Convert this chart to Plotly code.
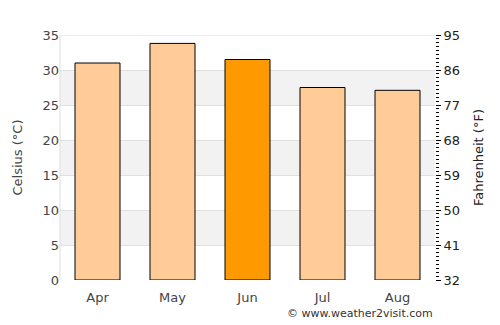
import plotly.graph_objects as go

months = ["Apr", "May", "Jun", "Jul", "Aug"]
celsius = [31.0, 33.8, 31.5, 27.5, 27.1]
colors = ["#ffcc99", "#ffcc99", "#ff9900", "#ffcc99", "#ffcc99"]
c_ticks = [0, 5, 10, 15, 20, 25, 30, 35]
f_ticks = [32, 41, 50, 59, 68, 77, 86, 95]

fig = go.Figure()
fig.add_trace(go.Bar(x=months, y=celsius, marker=dict(color=colors, line=dict(color="black", width=1)),
                     width=0.6, hoverinfo="skip"))
# invisible trace for the secondary axis
fig.add_trace(go.Scatter(x=months, y=[c * 9 / 5 + 32 for c in celsius], yaxis="y2",
                         mode="markers", marker=dict(opacity=0), hoverinfo="skip", showlegend=False))

shapes = []
for lo in [5, 15, 25]:
    shapes.append(dict(type="rect", xref="paper", yref="y", x0=0, x1=1, y0=lo, y1=lo + 5,
                       fillcolor="#f2f2f2", line=dict(width=0), layer="below"))
shapes.append(dict(type="line", xref="paper", yref="y", x0=0, x1=1, y0=35, y1=35,
                   line=dict(color="#dddddd", width=1), layer="below"))
shapes.append(dict(type="line", xref="paper", yref="paper", x0=0, x1=0, y0=0, y1=1,
                   line=dict(color="#dddddd", width=1), layer="below"))

font = dict(family="DejaVu Sans", size=13, color="#333333")
fig.update_layout(
    width=500, height=325,
    margin=dict(l=60, r=65, t=35, b=45),
    paper_bgcolor="white", plot_bgcolor="white",
    showlegend=False, bargap=0.4,
    font=font,
    shapes=shapes,
    xaxis=dict(showgrid=False, showline=False, ticks="", ticklabelstandoff=8,
               tickfont=dict(size=13, color="#444444")),
    yaxis=dict(range=[0, 35], tickvals=c_ticks, showgrid=True, gridcolor="#e0e0e0", gridwidth=1,
               zeroline=False, showline=False, ticks="", tickfont=dict(size=13, color="#444444"),
               title=dict(text="Celsius (°C)", font=dict(size=13, color="#444444"), standoff=16)),
    yaxis2=dict(range=[32, 95], overlaying="y", side="right", tickvals=f_ticks, showgrid=False,
                zeroline=False, showline=False, ticks="outside", ticklen=5, tickcolor="black",
                tickwidth=1,
                minor=dict(dtick=1, tick0=32, ticks="outside", ticklen=3, tickcolor="black", tickwidth=1),
                tickfont=dict(size=13, color="#222222"),
                title=dict(text="Fahrenheit (°F)", font=dict(size=13, color="#222222"), standoff=14)),
    annotations=[dict(text="© www.weather2visit.com", xref="paper", yref="paper", x=1, y=-0.135,
                      xanchor="right", yanchor="middle", showarrow=False,
                      font=dict(family="DejaVu Sans", size=11, color="#333333"))],
)
fig.write_html("out.html")
